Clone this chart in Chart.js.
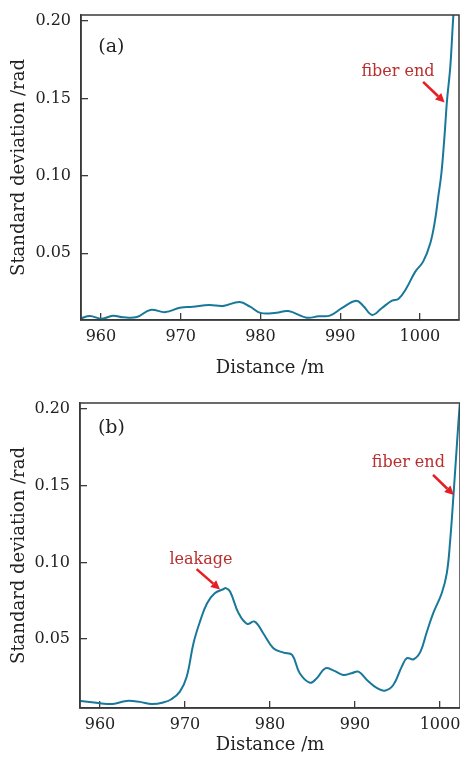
<!DOCTYPE html>
<html>
<head>
<meta charset="utf-8">
<script src="https://cdn.jsdelivr.net/npm/chart.js@4.4.1/dist/chart.umd.min.js"></script>
<style>
  body { margin: 0; background: #fff; }
  .panel { width: 460px; height: 379px; }
  canvas { display: block; }
</style>
</head>
<body>
<div class="panel"><canvas id="chartA" width="460" height="379"></canvas></div>
<div class="panel"><canvas id="chartB" width="460" height="379"></canvas></div>
<script>
// panel (a): normal fiber
const distanceA = [957.5, 958.6, 960.1, 961.5, 962.8, 964.5, 966.2, 968.1, 969.9, 971.5, 973.6, 975.3, 977.4, 978.7,
    980.0, 982.0, 983.5, 985.8, 987.3, 988.7, 990.2, 992.0, 992.9, 994.0, 995.2, 996.5, 997.3, 998.3, 999.4,
    1000.4, 1001.3, 1001.9, 1002.3, 1002.7, 1003.1, 1003.4, 1003.8, 1004.2, 1004.4];
const stdDevA = [0.0080, 0.0095, 0.0077, 0.0097, 0.0086, 0.0088, 0.0134, 0.0120, 0.0148, 0.0155, 0.0166, 0.0160, 0.0185, 0.0155,
    0.0115, 0.0116, 0.0127, 0.0084, 0.0093, 0.0097, 0.0145, 0.0194, 0.0160, 0.0102, 0.0145, 0.0194, 0.0205, 0.0274, 0.0380,
    0.0446, 0.0565, 0.0715, 0.0866, 0.1020, 0.1270, 0.1490, 0.1700, 0.2040, 0.2150];

// panel (b): fiber with leakage
const distanceB = [957.6, 960.0, 961.5, 963.1, 964.7, 966.1, 967.5, 968.4, 969.4, 970.2, 971.0, 971.8, 972.6, 973.5,
    974.5, 974.8, 975.3, 976.3, 977.3, 978.2, 979.2, 980.4, 981.6, 982.6, 983.5, 984.7, 985.5, 986.5, 987.5,
    988.6, 989.6, 990.4, 991.4, 992.6, 993.5, 994.5, 995.5, 996.1, 996.9, 997.7, 998.4, 999.2, 1000.2,
    1000.8, 1001.2, 1001.6, 1002.0, 1002.3, 1002.5];
const stdDevB = [0.0096, 0.0081, 0.0076, 0.0096, 0.0090, 0.0076, 0.0087, 0.0107, 0.0157, 0.0254, 0.0473, 0.0620, 0.0734, 0.0799,
    0.0825, 0.0832, 0.0810, 0.0669, 0.0599, 0.0614, 0.0538, 0.0440, 0.0411, 0.0396, 0.0277, 0.0215, 0.0244, 0.0309, 0.0294,
    0.0266, 0.0277, 0.0287, 0.0233, 0.0179, 0.0163, 0.0200, 0.0320, 0.0375, 0.0368, 0.0418, 0.0538, 0.0669, 0.0799,
    0.0930, 0.1147, 0.1452, 0.1780, 0.2018, 0.2150];

const xTicks = [960, 970, 980, 990, 1000];
const yTicks = [0.05, 0.10, 0.15, 0.20];

const FONT = '"DejaVu Serif", "Liberation Serif", serif';
const AXIS_COLOR = '#3a3a3a';
const LINE_COLOR = '#18789a';
const NOTE_COLOR = '#b92e2e';
const ARROW_COLOR = '#e61e25';

// draws the box around the plot, the panel letters and the red arrows
const framePlugin = {
    id: 'frame',
    afterDraw(chart, args, opts) {
        const { ctx, chartArea: a, scales: { x, y } } = chart;
        ctx.save();
        ctx.strokeStyle = AXIS_COLOR; ctx.lineWidth = 1.5;
        ctx.strokeRect(a.left, a.top, a.right - a.left, a.bottom - a.top);
        ctx.textAlign = 'center'; ctx.textBaseline = 'middle';
        (opts.notes || []).forEach(n => {
            ctx.font = `${n.size}px ${FONT}`;
            ctx.fillStyle = n.color;
            ctx.fillText(n.text, x.getPixelForValue(n.x), y.getPixelForValue(n.y));
        });
        (opts.arrows || []).forEach(ar => {
            const x1 = x.getPixelForValue(ar.from[0]), y1 = y.getPixelForValue(ar.from[1]);
            const x2 = x.getPixelForValue(ar.to[0]), y2 = y.getPixelForValue(ar.to[1]);
            const ang = Math.atan2(y2 - y1, x2 - x1);
            const hl = 9, hw = 4.5;
            const bx = x2 - hl * Math.cos(ang), by = y2 - hl * Math.sin(ang);
            ctx.strokeStyle = ARROW_COLOR; ctx.fillStyle = ARROW_COLOR; ctx.lineWidth = 2.6;
            ctx.beginPath(); ctx.moveTo(x1, y1); ctx.lineTo(bx, by); ctx.stroke();
            ctx.beginPath();
            ctx.moveTo(x2, y2);
            ctx.lineTo(bx + hw * Math.sin(ang), by - hw * Math.cos(ang));
            ctx.lineTo(bx - hw * Math.sin(ang), by + hw * Math.cos(ang));
            ctx.closePath(); ctx.fill();
        });
        ctx.restore();
    }
};

function makeChart(id, xs, ys, cfg) {
    const ctx = document.getElementById(id).getContext('2d');
    return new Chart(ctx, {
        type: 'line',
        data: { datasets: [{ data: xs.map((d, i) => ({ x: d, y: ys[i] })), borderColor: LINE_COLOR, borderWidth: 2, pointRadius: 0, tension: 0.4, fill: false }] },
        options: {
            responsive: false, animation: false, devicePixelRatio: 1,
            layout: { padding: { top: cfg.padTop, right: cfg.padRight, left: 0, bottom: 0 } },
            plugins: { legend: { display: false }, tooltip: { enabled: false }, frame: { notes: cfg.notes, arrows: cfg.arrows } },
            scales: {
                x: {
                    type: 'linear', min: cfg.xMin, max: cfg.xMax,
                    afterBuildTicks: s => { s.ticks = xTicks.map(v => ({ value: v })); },
                    afterFit: s => { s.height = cfg.xAxisH; s.paddingLeft = 0; s.paddingRight = 0; },
                    ticks: { font: { family: FONT, size: 16 }, color: '#222', padding: 14, maxRotation: 0, callback: v => String(v) },
                    grid: { drawOnChartArea: false, tickLength: -7, color: AXIS_COLOR, lineWidth: 1.3 },
                    border: { color: AXIS_COLOR, width: 1.5 },
                    title: { display: true, text: 'Distance /m', color: '#222', font: { family: FONT, size: 18 }, padding: { top: 0, bottom: cfg.xTitlePad } }
                },
                y: {
                    type: 'linear', min: cfg.yMin, max: cfg.yMax,
                    afterBuildTicks: s => { s.ticks = yTicks.map(v => ({ value: v })); },
                    afterFit: s => { s.width = cfg.yAxisW; s.paddingTop = 0; s.paddingBottom = 0; },
                    ticks: { font: { family: FONT, size: 16 }, color: '#222', padding: 17, callback: v => v.toFixed(2) },
                    grid: { drawOnChartArea: false, tickLength: -7, color: AXIS_COLOR, lineWidth: 1.3 },
                    border: { color: AXIS_COLOR, width: 1.5 },
                    title: { display: true, text: 'Standard deviation /rad', color: '#222', font: { family: FONT, size: 18 }, padding: { top: 9, bottom: 0 } }
                }
            }
        },
        plugins: [framePlugin]
    });
}

makeChart('chartA', distanceA, stdDevA, {
    xMin: 957.5, xMax: 1004.9, yMin: 0.0069, yMax: 0.2039,
    padTop: 15, padRight: 1, xAxisH: 59, yAxisW: 81, xTitlePad: 0,
    notes: [
        { text: '(a)', x: 961.3, y: 0.1833, size: 19, color: '#222' },
        { text: 'fiber end', x: 997.25, y: 0.167, size: 16, color: NOTE_COLOR }
    ],
    arrows: [{ from: [1000.4, 0.1607], to: [1003.1, 0.1474] }]
});

makeChart('chartB', distanceB, stdDevB, {
    xMin: 957.65, xMax: 1002.35, yMin: 0.005, yMax: 0.204,
    padTop: 24, padRight: 0, xAxisH: 50, yAxisW: 80, xTitlePad: 2,
    notes: [
        { text: '(b)', x: 961.35, y: 0.1878, size: 19, color: '#222' },
        { text: 'leakage', x: 971.88, y: 0.1017, size: 16, color: NOTE_COLOR },
        { text: 'fiber end', x: 996.27, y: 0.1652, size: 16, color: NOTE_COLOR }
    ],
    arrows: [
        { from: [971.37, 0.0956], to: [974.12, 0.0823] },
        { from: [999.18, 0.1571], to: [1001.62, 0.144] }
    ]
});
</script>
</body>
</html>
